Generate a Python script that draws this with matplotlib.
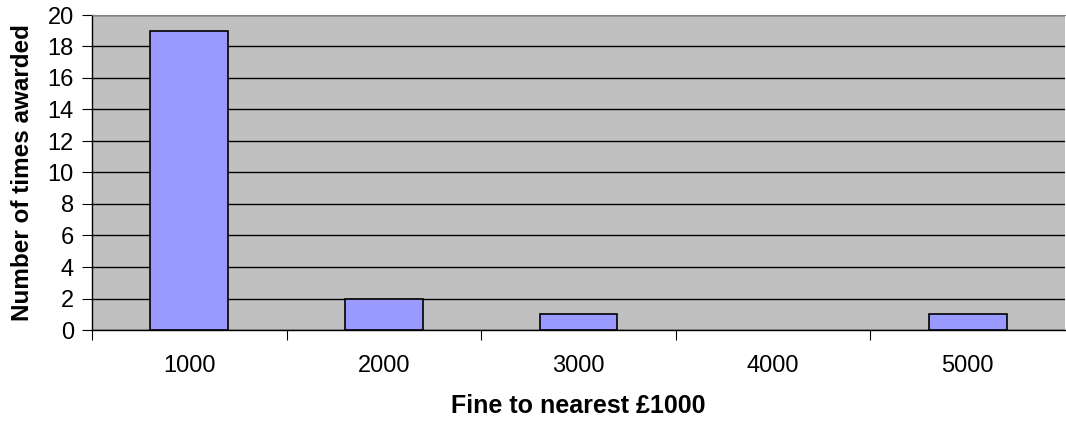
import matplotlib
matplotlib.use("Agg")
import matplotlib.pyplot as plt
import numpy as np

plt.rcParams['font.family'] = ['Liberation Sans', 'DejaVu Sans']

# fines rounded to the nearest thousand, and how often each was awarded
fines = ['1000', '2000', '3000', '4000', '5000']
counts = [19, 2, 1, 0, 1]
y_ticks = list(range(0, 21, 2))

fig = plt.figure(figsize=(10.66, 4.23), dpi=100)
ax = fig.add_axes([92 / 1066, 93 / 423, 973 / 1066, 315 / 423])
ax.set_facecolor('#C0C0C0')

x = np.arange(len(fines))
edges = ['black' if c > 0 else 'none' for c in counts]
ax.bar(x, counts, width=0.4, color='#9999FF', edgecolor=edges, linewidth=1.2, zorder=3)

ax.set_xlim(-0.5, len(fines) - 0.5)
ax.set_ylim(0, 20)
ax.set_yticks(y_ticks)
ax.yaxis.grid(True, color='black', linewidth=1.0, zorder=1)
ax.set_axisbelow(True)

# category labels sit between tick marks at the category boundaries
ax.set_xticks(np.arange(-0.5, len(fines) - 0.5, 1.0))
ax.set_xticklabels([])
ax.set_xticks(x, minor=True)
ax.set_xticklabels(fines, minor=True)
ax.tick_params(axis='x', which='major', length=7, width=0.8, color='black', direction='out')
ax.tick_params(axis='x', which='minor', length=0, labelsize=17, pad=18)
ax.tick_params(axis='y', length=7, width=0.8, labelsize=17, pad=6)

for side in ['left', 'bottom']:
    ax.spines[side].set_color('black')
    ax.spines[side].set_linewidth(1.0)
ax.spines['top'].set_color('#808080')
ax.spines['right'].set_visible(False)

ax.set_xlabel('Fine to nearest £1000', fontsize=18, fontweight='bold', va='center')
ax.xaxis.set_label_coords(0.5, -0.24)
ax.set_ylabel('Number of times awarded', fontsize=17.5, fontweight='bold', va='center')
ax.yaxis.set_label_coords(-0.071, 0.5)

fig.savefig('out.png', dpi=100)
